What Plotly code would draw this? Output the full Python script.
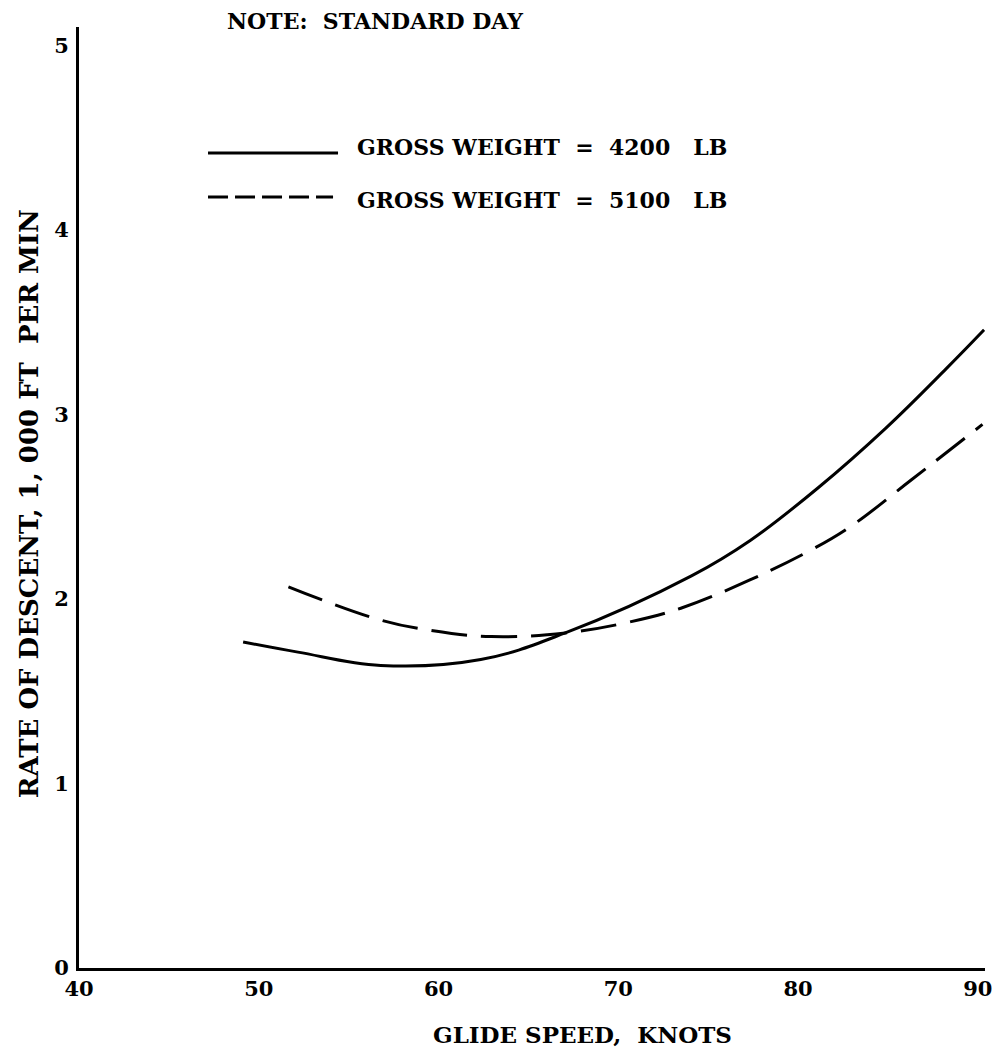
import plotly.graph_objects as go

# Data (glide speed in knots, rate of descent in 1,000 ft/min)
speed_4200 = [49.13, 52.18, 56.78, 62.35, 67.05, 74.07, 77.34, 81.12, 84.87, 88.26, 90.35]
rod_4200 = [1.767, 1.712, 1.640, 1.672, 1.816, 2.125, 2.317, 2.603, 2.925, 3.25, 3.459]

speed_5100 = [51.65, 56.67, 59.6, 62.93, 67.05, 70.57, 73.48, 77.29, 80.66, 82.91, 86.31, 90.26]
rod_5100 = [2.066, 1.889, 1.829, 1.796, 1.816, 1.874, 1.95, 2.102, 2.262, 2.392, 2.646, 2.946]

x_ticks = [40, 50, 60, 70, 80, 90]
y_ticks = [0, 1, 2, 3, 4, 5]

FONT = "DejaVu Serif"

fig = go.Figure()
fig.add_trace(go.Scatter(x=speed_4200, y=rod_4200, mode="lines",
                         line=dict(color="black", width=3, shape="spline", smoothing=1.1),
                         name="GROSS WEIGHT = 4200 LB", showlegend=False))
fig.add_trace(go.Scatter(x=speed_5100, y=rod_5100, mode="lines",
                         line=dict(color="black", width=3, shape="spline", smoothing=1.1,
                                   dash="36px,14px"),
                         name="GROSS WEIGHT = 5100 LB", showlegend=False))

fig.update_layout(
    width=1008, height=1062,
    margin=dict(l=79, r=23, t=27, b=94),
    paper_bgcolor="white", plot_bgcolor="white",
    font=dict(family=FONT, color="black"),
    xaxis=dict(range=[40, 90.4], tickvals=x_ticks, ticktext=[str(v) for v in x_ticks],
               showgrid=False, zeroline=False, showline=True, linecolor="black", linewidth=3,
               ticks="", tickfont=dict(size=21, family=FONT, weight="bold"), ticklabelstandoff=0),
    yaxis=dict(range=[0, 5.1], tickvals=y_ticks, ticktext=[str(v) for v in y_ticks],
               showgrid=False, zeroline=False, showline=True, linecolor="black", linewidth=3,
               ticks="", tickfont=dict(size=21, family=FONT, weight="bold"), ticklabelstandoff=3),
)

# Axis titles
fig.add_annotation(xref="paper", yref="paper", x=0.5552, y=-0.0712, xanchor="center", yanchor="middle",
                   text="GLIDE SPEED,  KNOTS", showarrow=False,
                   font=dict(size=23, family=FONT, weight="bold"))
fig.add_annotation(xref="paper", yref="paper", x=-0.0552, y=0.494, xanchor="center", yanchor="middle",
                   text="RATE OF DESCENT, 1, 000 FT  PER MIN", textangle=-90, showarrow=False,
                   font=dict(size=26, family=FONT, weight="bold"))

# Legend keys (decorative)
fig.add_shape(type="line", xref="paper", yref="paper", x0=0.1424, x1=0.2859, y0=0.8661, y1=0.8661,
              line=dict(color="black", width=3))
fig.add_shape(type="line", xref="paper", yref="paper", x0=0.1424, x1=0.2804, y0=0.8194, y1=0.8194,
              line=dict(color="black", width=3, dash="20px,7px"))
LEG = dict(size=22, family=FONT, weight="bold")
fig.add_annotation(xref="paper", yref="paper", x=0.3046, y=0.8725, xanchor="left", yanchor="middle",
                   text="GROSS WEIGHT  =  4200   LB", showarrow=False, font=LEG)
fig.add_annotation(xref="paper", yref="paper", x=0.3046, y=0.8162, xanchor="left", yanchor="middle",
                   text="GROSS WEIGHT  =  5100   LB", showarrow=False, font=LEG)
fig.add_annotation(xref="paper", yref="paper", x=0.1611, y=1.0069, xanchor="left", yanchor="middle",
                   text="NOTE:  STANDARD DAY", showarrow=False,
                   font=dict(size=22, family=FONT, weight="bold"))

fig.write_html("out.html")
